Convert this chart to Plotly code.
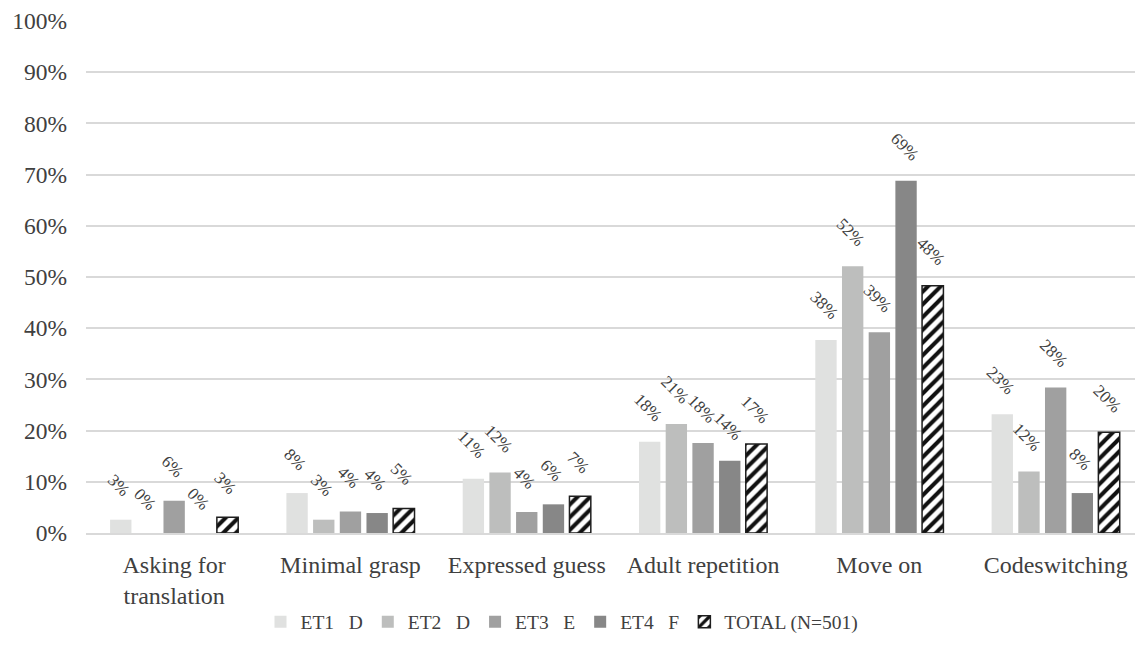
import plotly.graph_objects as go

categories = ["Asking for<br>translation", "Minimal grasp", "Expressed guess",
              "Adult repetition", "Move on", "Codeswitching"]

series_names = ["ET1\u00a0\u00a0\u00a0D", "ET2\u00a0\u00a0\u00a0D",
                "ET3\u00a0\u00a0\u00a0E", "ET4\u00a0\u00a0\u00a0F", "TOTAL (N=501)"]

et1 = [2.6, 7.8, 10.6, 17.8, 37.7, 23.2]
et2 = [0.0, 2.6, 11.8, 21.3, 52.1, 12.0]
et3 = [6.3, 4.2, 4.1, 17.6, 39.2, 28.4]
et4 = [0.0, 3.9, 5.6, 14.1, 68.8, 7.8]
total = [3.1, 4.8, 7.2, 17.4, 48.3, 19.7]

series_values = [et1, et2, et3, et4, total]
fill_colors = ["#e0e1e0", "#bdbebd", "#a0a0a0", "#878787", "#ffffff"]

serif = "Liberation Serif, Times New Roman, serif"
text_color = "#404040"

# layout geometry
W, H = 1135, 655
M_L, M_R, M_T, M_B = 86, 0, 21, 122
X_RANGE = [-0.5, 5.45]
BARGAP, BARGROUPGAP = 0.243, 0.2

plot_w = W - M_L - M_R
cat_px = plot_w / (X_RANGE[1] - X_RANGE[0])
slot_px = cat_px * (1 - BARGAP) / len(series_values)


def pct_label(v):
    return f"{int(v + 0.5)}%"


fig = go.Figure()
annotations = []
for i, (name, vals) in enumerate(zip(series_names, series_values)):
    if i == 4:
        marker = dict(
            color="#ffffff",
            line=dict(color="#1e1e1e", width=1.5),
            pattern=dict(shape="/", fgcolor="#111111", bgcolor="#ffffff",
                         size=9, solidity=0.45, fillmode="replace"),
        )
    else:
        marker = dict(color=fill_colors[i], line=dict(width=0))
    fig.add_trace(go.Bar(name=name, x=categories, y=vals, marker=marker))

    # slanted value labels above each bar
    offset = (i - (len(series_values) - 1) / 2) * slot_px
    for cat, v in zip(categories, vals):
        annotations.append(dict(
            x=cat, y=v, xref="x", yref="y",
            text=pct_label(v), showarrow=False,
            textangle=45, xanchor="center", yanchor="middle",
            xshift=offset - 2, yshift=34,
            font=dict(family=serif, size=17, color=text_color),
        ))

fig.update_layout(
    width=W,
    height=H,
    margin=dict(l=M_L, r=M_R, t=M_T, b=M_B, autoexpand=False),
    paper_bgcolor="white",
    plot_bgcolor="white",
    barmode="group",
    bargap=BARGAP,
    bargroupgap=BARGROUPGAP,
    font=dict(family=serif, size=17, color=text_color),
    annotations=annotations,
    legend=dict(
        orientation="h",
        xref="container", yref="container",
        x=562 / W, xanchor="center",
        y=1 - 622 / H, yanchor="middle",
        font=dict(family=serif, size=19.5, color=text_color),
        itemwidth=30,
        traceorder="normal",
    ),
    yaxis=dict(
        range=[0, 100],
        tickvals=list(range(0, 101, 10)),
        ticktext=[f"{v}%" for v in range(0, 101, 10)],
        showgrid=True,
        gridcolor="#d9d9d9",
        gridwidth=1.5,
        zeroline=False,
        showline=False,
        ticks="",
        automargin=False,
        ticklabelstandoff=18,
        tickfont=dict(family=serif, size=23.5, color=text_color),
    ),
    xaxis=dict(
        range=X_RANGE,
        showline=True,
        linecolor="#d9d9d9",
        linewidth=1.5,
        ticks="",
        automargin=False,
        ticklabelstandoff=9,
        tickfont=dict(family=serif, size=24, color=text_color),
    ),
)

fig.write_html("out.html")
